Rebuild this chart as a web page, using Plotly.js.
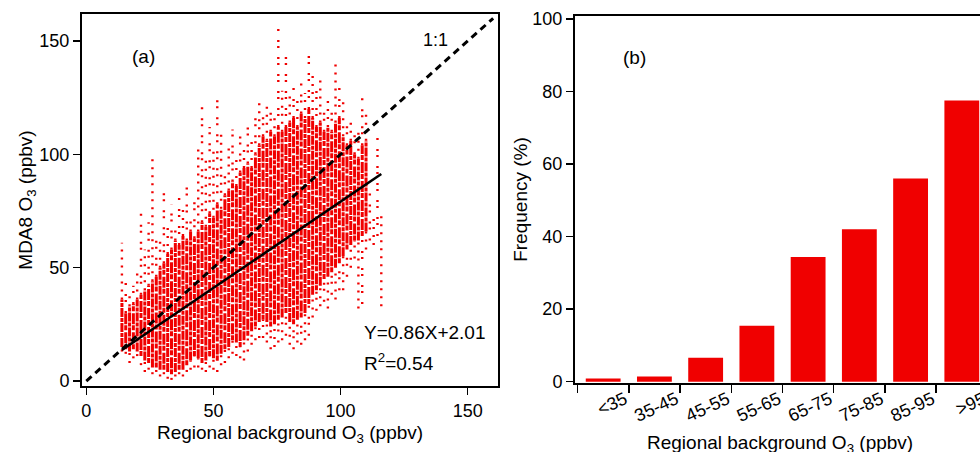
<!DOCTYPE html>
<html>
<head>
<meta charset="utf-8">
<script src="https://cdn.plot.ly/plotly-3.0.1.min.js"></script>
<style>
html,body{margin:0;padding:0;overflow:hidden;background:#fff;}
#chart{width:995px;height:462px;}
</style>
</head>
<body>
<div id="chart"></div>
<script>
// ---- Panel (a): scatter columns (ppbv) ----
const colX     = [14,15.5,17,18.5,20,21.5,23,24.5,26,27.5,29,30.5,32,33.5,35,36.5,38,39.5,41,42.5,44,45.5,47,48.5,50,51.5,53,54.5,56,57.5,59,60.5,62,63.5,65,66.5,68,69.5,71,72.5,74,75.5,77,78.5,80,81.5,83,84.5,86,87.5,89,90.5,92,93.5,95,96.5,98,99.5,101,102.5,104,105.5,107,108.5,110,111.5,113,114.5,116];
const sparseLo = [13,12,8,10,11,7,4,5,3,4,2,3,1,0.5,2,3,2,4,5,6,6,5,4,6,5,4,7,8,10,12,11,10,9,13,16,18,19,19,17,14,15,17,18,20,16,14,17,16,18,20,28,31,33,35,32,38,36,40,40,46,50,54,32,34,58,62,60,64,33];
const denseLo  = [15,14,13,14,13,11,9,8,6,6,5,5,4,3,4,5,5,7,9,11,10,8,9,11,10,9,12,14,15,18,17,15,18,20,22,24,26,27,26,24,25,27,28,30,26,25,27,28,30,34,38,40,42,45,46,48,50,52,55,58,60,62,62,64,66,null,null,null,null];
const denseHi  = [36,30,33,34,36,38,40,42,44,46,50,52,56,58,62,60,64,62,66,63,66,70,68,74,72,78,76,82,84,88,86,92,94,96,94,100,104,108,106,110,108,112,110,112,114,116,112,118,116,120,116,112,114,110,112,110,114,116,108,104,106,100,98,104,106,null,null,null,null];
const sparseHi = [61,44,38,42,48,75,58,70,100,64,62,84,70,78,68,81,76,89,72,80,103,121,98,112,103,127,110,92,105,111,98,109,102,114,107,118,124,118,123,120,116,156,128,145,128,130,124,132,127,145,135,128,135,122,125,120,142,130,125,116,114,112,110,125,118,84,72,108,74];
// regression line and 1:1 line end points as drawn
const fitX = [14, 116];
const fitY = [13.7, 91.3];
const oneX = [0, 160];
const oneY = [0, 160];

// ---- Panel (b): frequency bars ----
const categories = ['<35','35-45','45-55','55-65','65-75','75-85','85-95','>95'];
const freq = [0.9, 1.4, 6.6, 15.4, 34.4, 42.0, 56.0, 77.5];

// build segment arrays from the column data (two groups for alternating dot patterns)
const dX = [[], []], dY = [[], []], sX = [[], []], sY = [[], []];
for (let i = 0; i < colX.length; i++) {
  const x = colX[i], g = i % 2;
  if (denseLo[i] !== null) {
    dX[g].push(x, x, null); dY[g].push(denseLo[i], denseHi[i], null);
    sX[g].push(x, x, null); sY[g].push(sparseLo[i], denseLo[i], null);
    sX[g].push(x, x, null); sY[g].push(denseHi[i], sparseHi[i], null);
  } else {
    sX[g].push(x, x, null); sY[g].push(sparseLo[i], sparseHi[i], null);
  }
}
const barX = categories.map((c, i) => i);
const tickV = [-0.5].concat(categories.map((c, i) => i + 0.5));
const tickT = [' '].concat(categories);

const RED = 'rgb(240,0,0)';
const FONT = 'Liberation Sans, Arial, sans-serif';
const sparseDash = ['2px,6px', '2px,9px,2px,4px'];
const denseDash = ['9px,1px,4px,1px', '5px,1px,11px,2px'];

const traces = [];
for (let g = 0; g < 2; g++) {
  traces.push({type:'scatter', mode:'lines', x:sX[g], y:sY[g], xaxis:'x', yaxis:'y', hoverinfo:'skip',
    line:{color:RED, width:2.4, dash:sparseDash[g]}});
  traces.push({type:'scatter', mode:'lines', x:dX[g], y:dY[g], xaxis:'x', yaxis:'y', hoverinfo:'skip',
    line:{color:RED, width:3, dash:denseDash[g]}});
}
traces.push(
  {type:'scatter', mode:'lines', x:oneX, y:oneY, xaxis:'x', yaxis:'y',
   line:{color:'black', width:3, dash:'7px,5px'}},
  {type:'scatter', mode:'lines', x:fitX, y:fitY, xaxis:'x', yaxis:'y',
   line:{color:'black', width:2.6}},
  {type:'bar', x:barX, y:freq, xaxis:'x2', yaxis:'y2', width:0.68,
   marker:{color:RED, line:{width:0}}}
);

// paper is slightly larger than the 980x452 view; the overflow is clipped like the reference crop
const W = 995, H = 462;
const axBase = {showgrid:false, zeroline:false, showline:true, linecolor:'black', linewidth:2,
  ticks:'outside', ticklen:7, tickwidth:1.5, tickcolor:'black',
  tickfont:{size:18, color:'black', family:FONT}};

const layout = {
  width:W, height:H, margin:{l:0,r:0,t:0,b:0},
  paper_bgcolor:'white', plot_bgcolor:'white', showlegend:false,
  font:{family:FONT, color:'black'},
  xaxis:Object.assign({}, axBase, {domain:[82/W, 498/W], range:[-1.7,161.9],
    tickvals:[0,50,100,150], mirror:true, automargin:false,
    title:{text:'Regional background O<sub>3</sub> (ppbv)', font:{size:19}, standoff:6}}),
  yaxis:Object.assign({}, axBase, {domain:[(H-386)/H, (H-14)/H], range:[-2.2,161.9],
    tickvals:[0,50,100,150], mirror:true, automargin:false,
    title:{text:'MDA8 O<sub>3</sub> (ppbv)', font:{size:19}, standoff:2}}),
  xaxis2:Object.assign({}, axBase, {anchor:'y2', domain:[575/W, 990/W], range:[-0.55,7.55],
    tickmode:'array', tickvals:tickV, ticktext:tickT, tickangle:-25, ticklen:8,
    ticklabelstandoff:-11, ticklabelshift:-4,
    tickfont:{size:18, color:'black', family:FONT}, mirror:true, automargin:false}),
  yaxis2:Object.assign({}, axBase, {anchor:'x2', domain:[(H-383)/H, (H-16)/H], range:[-0.36,100.8],
    tickvals:[0,20,40,60,80,100], mirror:false, automargin:false,
    title:{text:'Frequency (%)', font:{size:19}, standoff:0}}),
  annotations:[
    {xref:'x', yref:'y', x:22.4, y:143, text:'(a)', showarrow:false, font:{size:19}},
    {xref:'x', yref:'y', x:137.4, y:150.4, text:'1:1', showarrow:false, font:{size:18}},
    {xref:'x', yref:'y', x:108.4, y:21.2, xanchor:'left', text:'Y=0.86X+2.01', showarrow:false, font:{size:19}},
    {xref:'x', yref:'y', x:108.4, y:8.4, xanchor:'left', text:'R<sup>2</sup>=0.54', showarrow:false, font:{size:19}},
    {xref:'x2', yref:'y2', x:0.62, y:89.5, text:'(b)', showarrow:false, font:{size:19}},
    // x-axis title of panel (b)
    {xref:'paper', yref:'paper', x:780/W, y:(H-444)/H, xanchor:'center', yanchor:'middle',
     text:'Regional background O<sub>3</sub> (ppbv)', showarrow:false, font:{size:19}}
  ]
};

Plotly.newPlot('chart', traces, layout, {staticPlot:true, displayModeBar:false});
</script>
</body>
</html>
